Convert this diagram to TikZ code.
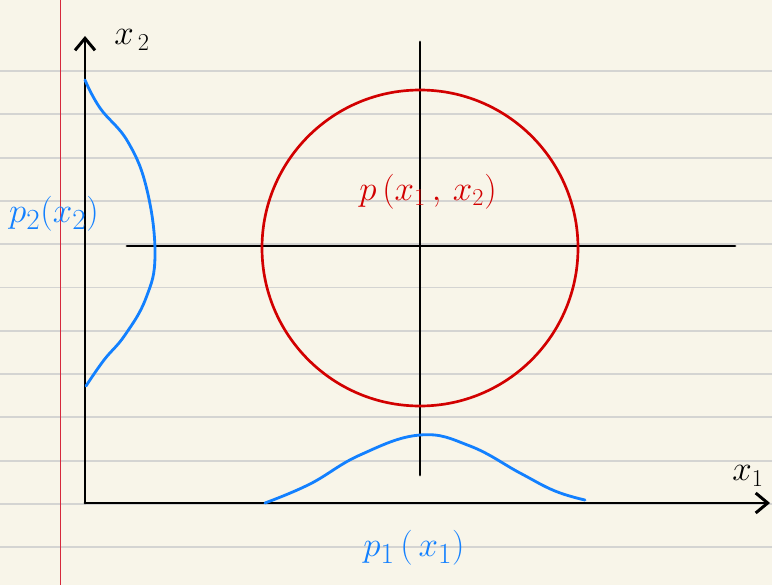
\documentclass[tikz,border=0pt]{standalone}
\usepackage{tikz}
\usetikzlibrary{arrows.meta,positioning}

\definecolor{paper}{RGB}{248,245,233}
\definecolor{rule}{RGB}{212,212,210}
\definecolor{margin}{RGB}{214,40,60}
\definecolor{penblue}{RGB}{18,128,255}
\definecolor{penred}{RGB}{210,0,0}

\begin{document}
\begin{tikzpicture}[
  x=0.025cm, y=-0.025cm,
  every node/.style={align=center, inner sep=1pt},
  axis/.style={line width=2.1pt, black, line cap=round},
  arr/.style={-{Straight Barb[length=3mm,width=5mm]}, axis},
  density/.style={line width=2pt, penblue, line cap=round, line join=round},
  joint/.style={line width=1.9pt, penred},
  lblk/.style={font=\fontsize{25}{30}\selectfont\sffamily, black},
  lblue/.style={font=\fontsize{29}{34}\selectfont, penblue},
  lred/.style={font=\fontsize{25}{30}\selectfont, penred}
]
% paper
\fill[paper] (0,0) rectangle (772,585);
\useasboundingbox (0,0) rectangle (772,585);
\foreach \y in {71,114.3,157.6,200.9,244.2,287.5,330.8,374.1,417.4,460.7,504,547.3}
  \draw[rule, line width=1.3pt] (0,\y) -- (772,\y);
\draw[margin, line width=0.7pt] (60,0) -- (60,585);

% axes
\coordinate (origin) at (85,503);
\coordinate (x2end) at (85,36);
\coordinate (x1end) at (770,503);
\draw[arr] (origin) -- (x2end);
\draw[arr] (origin) -- (x1end);
\node[lblk] (x2lbl) at (132,40) {$x_{\,2}$};
\node[lblk] (x1lbl) at (748,476) {$x_{1}$};

% cross through the mean
\coordinate (vtop) at (420,42);
\coordinate (vbot) at (420,475);
\coordinate (hleft) at (127,246);
\coordinate (hright) at (735,246);
\draw[axis] (vtop) -- (vbot);
\draw[axis] (hleft) -- (hright);

% joint density contour
\coordinate (centre) at (420,248);
\draw[joint] (centre) circle[radius=158];
\node[lred] (joint) at (428,192) {$p\,(x_{1}\,,\,x_{2})$};

% marginal densities
\draw[density] plot[smooth, tension=0.7] coordinates {(85,80) (100,108)
  (128,142) (147,190) (155,255) (146,298) (125,335) (104,360) (86,386)};
\draw[density] plot[smooth, tension=0.7] coordinates {(265,503) (310,484)
  (360,455) (420,435) (470,446) (520,473) (555,491) (585,500)};
\node[lblue] (p2lbl) at (54,214) {$p_{2}(x_{2})$};
\node[lblue] (p1lbl) at (414,548) {$p_{1}\,(\,x_{1})$};
\end{tikzpicture}
\end{document}
